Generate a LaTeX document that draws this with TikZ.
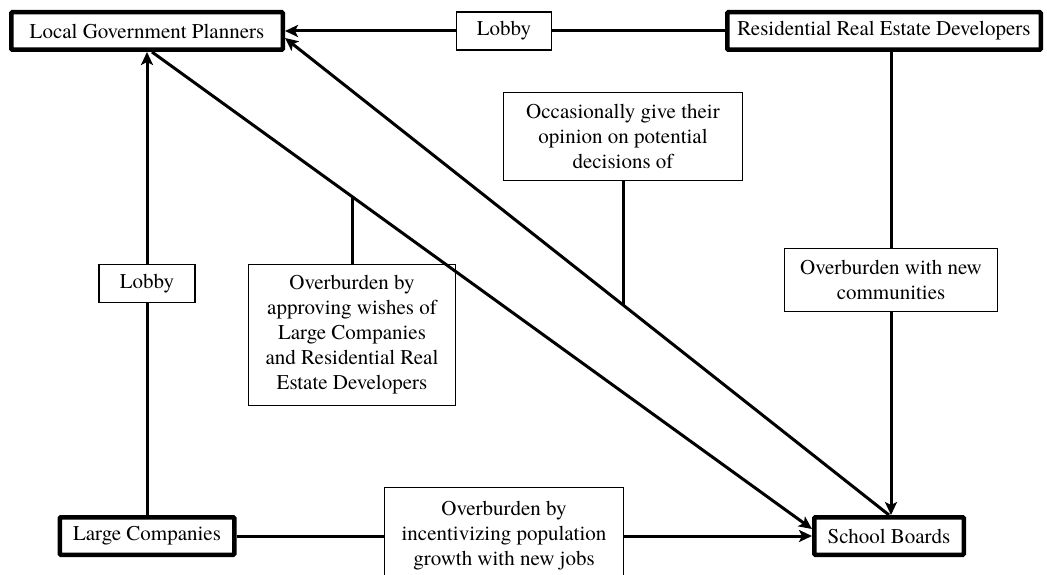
\documentclass[tikz,border=0pt]{standalone}
\usepackage{fontspec}
\setmainfont{texgyretermes}[Extension=.otf, UprightFont=*-regular]
\usetikzlibrary{arrows.meta}

\begin{document}
\begin{tikzpicture}[x=1pt, y=-1pt, line width=3pt,
                    >={Stealth[length=13pt,width=12pt,inset=3pt]}]
  \tikzstyle{actor}=[draw, line width=4.5pt, rounded corners=1pt, fill=white,
               inner sep=0pt, font=\fontsize{21}{25}\selectfont, minimum height=37.5pt]
  \tikzstyle{note}=[draw, line width=1.1pt, fill=white, inner sep=0pt,
               align=center, font=\fontsize{21}{25}\selectfont]
  \useasboundingbox (0,0) rectangle (1047,575);
  % the four parties
  \node[actor, minimum width=271.5pt] (lgp) at (147,31) {Local Government Planners};
  \node[actor, minimum width=313.5pt] (rred) at (884,31) {Residential Real Estate Developers};
  \node[actor, minimum width=174.5pt] (lc) at (147,536) {Large Companies};
  \node[actor, minimum width=149.5pt] (sb) at (889,536) {School Boards};
  % what they do to each other
  \node[note, minimum width=95pt, minimum height=38pt] (lobbytop) at (504,31) {Lobby};
  \node[note, minimum width=96pt, minimum height=38pt] (lobbyleft) at (147,283.5) {Lobby};
  \node[note, minimum width=207pt, minimum height=141pt] (approve) at (352,335)
    {Overburden by\\approving wishes of\\Large Companies\\and Residential Real\\Estate Developers};
  \node[note, minimum width=239pt, minimum height=88pt] (opinion) at (623,136.5)
    {Occasionally give their\\opinion on potential\\decisions of};
  \node[note, minimum width=213pt, minimum height=63pt] (newcomm) at (891,280)
    {Overburden with new\\communities};
  \node[note, minimum width=239pt, minimum height=97pt] (jobs) at (504,536)
    {Overburden by\\incentivizing population\\growth with new jobs};
  % straight links
  \draw (rred) -- (lobbytop);
  \draw[->] (lobbytop) -- (lgp);
  \draw (lc) -- (lobbyleft);
  \draw[->] (lobbyleft) -- (lgp);
  \draw (lc) -- (jobs);
  \draw[->] (jobs) -- (sb);
  \draw (rred.south -| newcomm) -- (newcomm);
  \draw[->] (newcomm) -- (newcomm |- sb.north);
  % crossing links
  \draw[->] ([xshift=5pt]lgp.south) -- coordinate[pos=0.303] (d1) ([yshift=7pt]sb.west);
  \draw[->] (sb.north) -- coordinate[pos=0.4385] (d2) ([yshift=-7pt]lgp.east);
  \draw (approve.north) -- (approve.north |- d1);
  \draw (opinion.south) -- (opinion.south |- d2);
\end{tikzpicture}
\end{document}
